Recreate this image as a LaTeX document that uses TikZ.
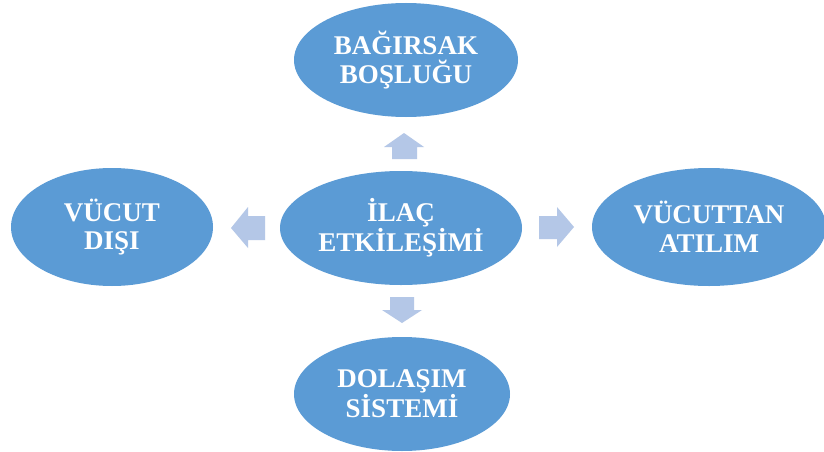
\documentclass[tikz,border=0pt]{standalone}
\usepackage{fontspec}
\setmainfont{Liberation Serif}
\usetikzlibrary{shapes.geometric}
\definecolor{ellblue}{HTML}{5B9BD5}
\definecolor{arrblue}{HTML}{B4C7E7}
\begin{document}
\begin{tikzpicture}[x=1pt,y=-1pt,
  bubble/.style={ellipse, fill=ellblue, draw=none, inner sep=0pt, text=white, align=center,
    font=\fontsize{27}{28.5}\selectfont\bfseries},
  blockarrow/.style={fill=arrblue, draw=none}]
\useasboundingbox (0,0) rectangle (824,452);
\fill[white] (0,0) rectangle (824,452);
\node[bubble, minimum width=224pt, minimum height=114pt] (top) at (406,60) {BAĞIRSAK\\BOŞLUĞU};
\node[bubble, minimum width=242pt, minimum height=114pt] (mid) at (401,228) {İLAÇ\\ETKİLEŞİMİ};
\node[bubble, minimum width=202pt, minimum height=118pt] (left) at (112,227) {VÜCUT\\DIŞI};
\node[bubble, minimum width=234pt, minimum height=118pt] (right) at (709,227) {VÜCUTTAN\\ATILIM};
\node[bubble, minimum width=216pt, minimum height=114pt] (bot) at (402,394) {DOLAŞIM\\SİSTEMİ};
% up arrow
\path[blockarrow] (392,159) -- (392,147) -- (384,147) -- (404,133) -- (424,147) -- (417,147) -- (417,159) -- cycle;
% left arrow
\path[blockarrow] (265,216) -- (248,216) -- (248,207) -- (231,228) -- (248,248) -- (248,240) -- (265,240) -- cycle;
% right arrow
\path[blockarrow] (539,216) -- (557,216) -- (557,207) -- (574,227) -- (557,247) -- (557,239) -- (539,239) -- cycle;
% down arrow
\path[blockarrow] (390,297) -- (414,297) -- (414,310) -- (422,310) -- (402,323) -- (382,310) -- (390,310) -- cycle;
\end{tikzpicture}
\end{document}
